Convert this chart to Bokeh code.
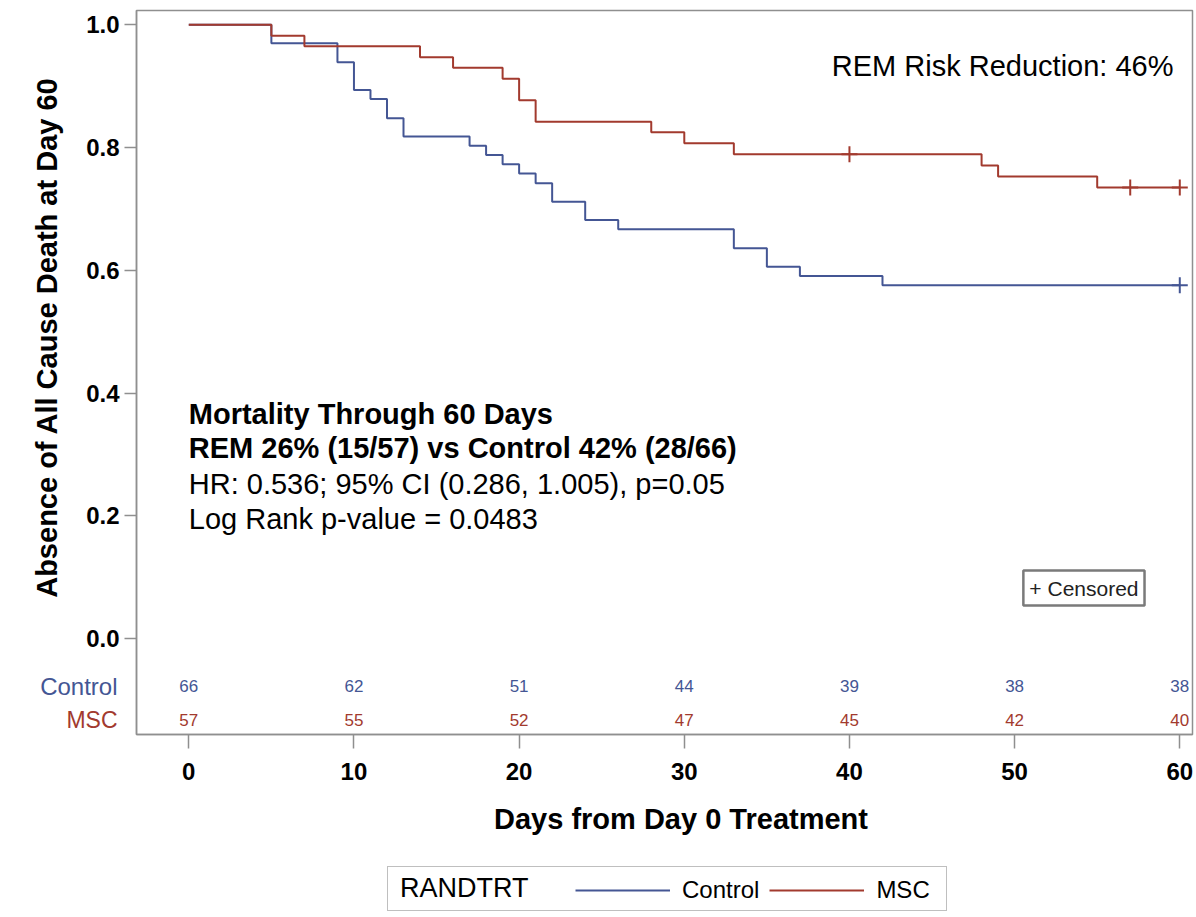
import math
from bokeh.plotting import figure
from bokeh.layouts import column
from bokeh.models import (Range1d, FixedTicker, NumeralTickFormatter, Label, LabelSet,
                          Legend, LegendItem, ColumnDataSource)
from bokeh.core.properties import value
from bokeh.embed import file_html
from bokeh.resources import INLINE

# ---------------- data ----------------
control_days = [0, 5, 9, 10, 11, 12, 13, 17, 18, 19, 20, 21, 22, 24, 26, 33, 35, 37, 42, 60]
control_surv = [1.0, 0.970, 0.939, 0.894, 0.879, 0.848, 0.818, 0.803, 0.788, 0.773,
                0.758, 0.742, 0.712, 0.682, 0.667, 0.636, 0.606, 0.591, 0.576, 0.576]
msc_days = [0, 5, 7, 14, 16, 19, 20, 21, 28, 30, 33, 48, 49, 55, 60]
msc_surv = [1.0, 0.982, 0.965, 0.947, 0.930, 0.912, 0.877, 0.842, 0.825, 0.807,
            0.789, 0.771, 0.753, 0.735, 0.735]

control_censor_days = [60]
control_censor_surv = [0.576]
msc_censor_days = [40, 57, 60]
msc_censor_surv = [0.789, 0.735, 0.735]

risk_days = [0, 10, 20, 30, 40, 50, 60]
control_at_risk = [66, 62, 51, 44, 39, 38, 38]
msc_at_risk = [57, 55, 52, 47, 45, 42, 40]

x_ticks = [0, 10, 20, 30, 40, 50, 60]
y_ticks = [0.0, 0.2, 0.4, 0.6, 0.8, 1.0]

group_names = ["Control", "MSC"]
legend_title = "RANDTRT"
x_title = "Days from Day 0 Treatment"
y_title = "Absence of All Cause Death at Day 60"
risk_text = "REM Risk Reduction: 46%"
stats_lines = ["Mortality Through 60 Days",
               "REM 26% (15/57) vs Control 42% (28/66)",
               "HR: 0.536;  95% CI (0.286, 1.005), p=0.05",
               "Log Rank p-value = 0.0483"]
censor_text = "+ Censored"

# ---------------- styling ----------------
BLUE = "#445694"
RED = "#A23A2E"
GRAY = "#8f8f8f"
FONT = "Liberation Sans"

X_START, X_END = -3.166, 60.77
Y_START, Y_END = -0.1559, 1.0233
MAIN_H = 856

p = figure(width=1196, height=MAIN_H, output_backend="svg", toolbar_location=None,
           x_range=Range1d(X_START, X_END), y_range=Range1d(Y_START, Y_END),
           min_border_left=136, min_border_right=4, min_border_top=10,
           min_border_bottom=MAIN_H - 734)
p.background_fill_color = "white"
p.border_fill_color = "white"
p.outline_line_color = GRAY
p.outline_line_width = 1.5
p.xgrid.visible = False
p.ygrid.visible = False

p.xaxis.ticker = FixedTicker(ticks=x_ticks)
p.yaxis.ticker = FixedTicker(ticks=y_ticks)
p.yaxis.formatter = NumeralTickFormatter(format="0.0")
for ax in (p.xaxis[0], p.yaxis[0]):
    ax.axis_line_color = GRAY
    ax.axis_line_width = 1.5
    ax.major_tick_line_color = GRAY
    ax.major_tick_line_width = 1.5
    ax.minor_tick_line_color = None
    ax.major_tick_in = 0
    ax.major_label_text_font = FONT
    ax.major_label_text_font_size = "24px"
    ax.major_label_text_font_style = "bold"
    ax.major_label_text_color = "black"
p.xaxis.major_tick_out = 14
p.yaxis.major_tick_out = 12
p.xaxis.major_label_standoff = 14
p.yaxis.major_label_standoff = 5

# ---------------- curves ----------------
src_c = ColumnDataSource(dict(day=control_days, surv=control_surv))
src_m = ColumnDataSource(dict(day=msc_days, surv=msc_surv))
r_ctrl = p.step(x="day", y="surv", source=src_c, mode="after", line_color=BLUE, line_width=2)
r_msc = p.step(x="day", y="surv", source=src_m, mode="after", line_color=RED, line_width=2)

p.scatter(x=control_censor_days, y=control_censor_surv, marker="cross", size=16,
          line_color=BLUE, line_width=2)
p.scatter(x=msc_censor_days, y=msc_censor_surv, marker="cross", size=16,
          line_color=RED, line_width=2)

# ---------------- at-risk table ----------------
ROW_C, ROW_M = -0.0777, -0.1330
risk_src = ColumnDataSource(dict(
    day=risk_days + risk_days,
    row=[ROW_C] * len(risk_days) + [ROW_M] * len(risk_days),
    txt=[str(v) for v in control_at_risk] + [str(v) for v in msc_at_risk],
    col=[BLUE] * len(risk_days) + [RED] * len(risk_days)))
p.add_layout(LabelSet(x="day", y="row", text="txt", source=risk_src, text_color="col",
                      text_align="center", text_baseline="middle",
                      text_font=value(FONT), text_font_size=value("17px")))

# ---------------- in-plot texts ----------------
p.add_layout(Label(x=59.62, y=0.9337, text=risk_text, text_align="right",
                   text_baseline="middle", text_font=FONT, text_font_size="29px",
                   text_color="black"))
stats_y = [0.3669, 0.3115, 0.2529, 0.1943]
stats_style = ["bold", "bold", "normal", "normal"]
for t, yy, st in zip(stats_lines, stats_y, stats_style):
    p.add_layout(Label(x=0, y=yy, text=t, text_align="left", text_baseline="middle",
                       text_font=FONT, text_font_size="29px", text_font_style=st,
                       text_color="black"))

cens = Label(x=50.53, y=0.0827, text=censor_text, text_align="left", text_baseline="middle",
             text_font=FONT, text_font_size="21px", text_color="#222222",
             border_line_color="#7a7a7a", border_line_width=2.5,
             background_fill_color="white")
try:
    cens.padding = 6
except Exception:
    pass
p.add_layout(cens)

# ---------------- left panel: y title (rotated) and row label "MSC" ----------------
p.add_layout(Label(x=X_START, y=0.4907, x_offset=-90, angle=math.pi / 2, text=y_title,
                   text_align="center", text_baseline="middle", text_font=FONT,
                   text_font_size="29px", text_font_style="bold", text_color="black"),
             "left")
p.add_layout(Label(x=X_START, y=ROW_M, x_offset=-19, text=group_names[1], text_color=RED,
                   text_align="right", text_baseline="middle", text_font=FONT,
                   text_font_size="23px"), "left")

# ---------------- below panel: row label "Control", x title ----------------
p.add_layout(Label(x=X_START, y=ROW_C, x_offset=-19, text=group_names[0], text_color=BLUE,
                   text_align="right", text_baseline="middle", text_font=FONT,
                   text_font_size="24px"), "below")
p.add_layout(Label(x=29.8, y=Y_START, y_offset=-84, text=x_title,
                   text_align="center", text_baseline="middle", text_font=FONT,
                   text_font_size="29px", text_font_style="bold", text_color="black"),
             "below")

# ---------------- legend strip ----------------
# The strip re-uses the two series; its ranges keep the curves themselves out of view,
# so only the legend entries (with their line samples) are visible.
lf = figure(width=1196, height=917 - MAIN_H, output_backend="svg", toolbar_location=None,
            x_range=Range1d(-300, -200), y_range=Range1d(-300, -200), x_axis_type=None,
            y_axis_type=None, min_border=0)
lf.outline_line_color = None
lf.background_fill_color = "white"
lf.border_fill_color = "white"
lr_c = lf.step(x="day", y="surv", source=src_c, mode="after", line_color=BLUE, line_width=2)
lr_m = lf.step(x="day", y="surv", source=src_m, mode="after", line_color=RED, line_width=2)

box_legend = Legend(items=[LegendItem(label=legend_title, renderers=[lr_c])],
                    location=(251, 6), label_text_font=FONT, label_text_font_size="27px",
                    label_text_color="black", glyph_width=0, glyph_height=20,
                    label_standoff=6, label_width=540, padding=6, margin=0,
                    border_line_color="#808080", border_line_width=1.5,
                    background_fill_color="white", background_fill_alpha=1.0)
lf.add_layout(box_legend)
line_legend = Legend(items=[LegendItem(label=group_names[0], renderers=[lr_c]),
                            LegendItem(label=group_names[1], renderers=[lr_m])],
                     orientation="horizontal", location=(439, 13),
                     label_text_font=FONT, label_text_font_size="24px",
                     label_text_color="black", glyph_width=95, glyph_height=22,
                     label_standoff=12, spacing=10, padding=0, margin=0,
                     border_line_color=None, background_fill_alpha=0.0)
lf.add_layout(line_legend)

layout = column(p, lf, spacing=0)
open("out.html", "w").write(file_html(layout, INLINE))
